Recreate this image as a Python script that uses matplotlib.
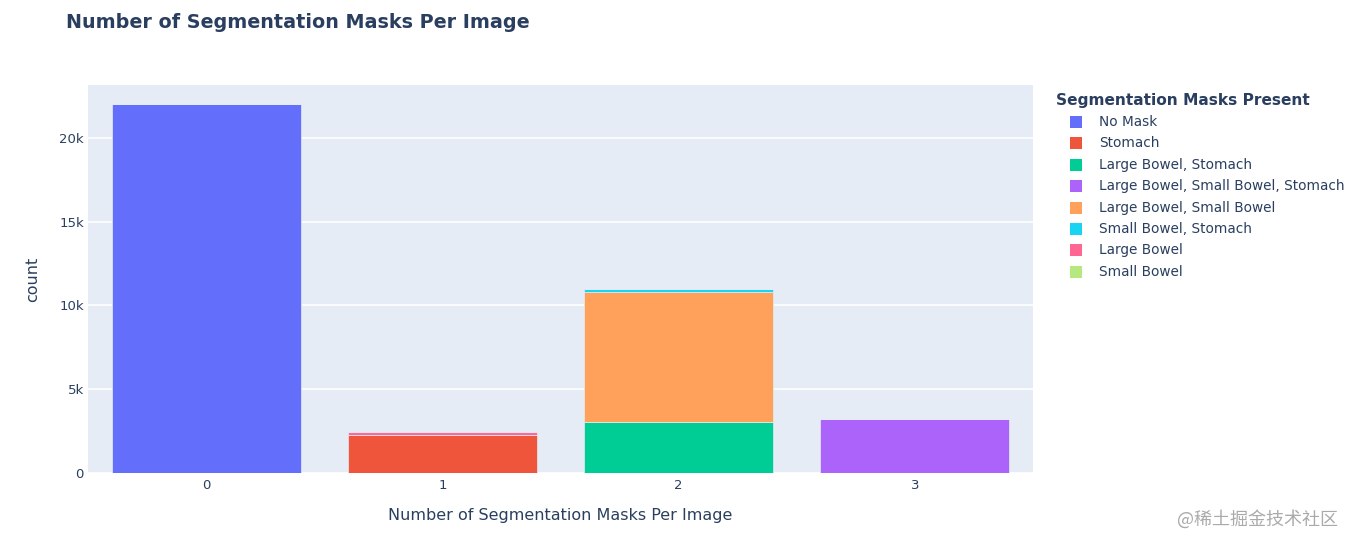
import matplotlib
matplotlib.use("Agg")
from matplotlib import pyplot as plt
from matplotlib.patches import Rectangle
import numpy as np

plt.rcParams['font.family'] = ['DejaVu Sans', 'Noto Sans CJK SC']

# data
mask_counts = [0, 1, 2, 3]
series_names = ['No Mask', 'Stomach', 'Large Bowel, Stomach',
                'Large Bowel, Small Bowel, Stomach', 'Large Bowel, Small Bowel',
                'Small Bowel, Stomach', 'Large Bowel', 'Small Bowel']
no_mask = [22030, 0, 0, 0]
stomach = [0, 2270, 0, 0]
lb_stomach = [0, 0, 3030, 0]
lb_sb_stomach = [0, 0, 0, 3220]
lb_sb = [0, 0, 7790, 0]
sb_stomach = [0, 0, 150, 0]
large_bowel = [0, 150, 0, 0]
small_bowel = [0, 30, 0, 0]
series_values = [no_mask, stomach, lb_stomach, lb_sb_stomach, lb_sb,
                 sb_stomach, large_bowel, small_bowel]
colors = ['#636EFA', '#EF553B', '#00CC96', '#AB63FA', '#FFA15A',
          '#19D3F3', '#FF6692', '#B6E880']

W, H = 1355, 547
text_col = '#2a3f5f'
fig = plt.figure(figsize=(W/100, H/100), dpi=100)
ax = fig.add_axes([88/W, 1-473/H, (1033-88)/W, (473-85)/H])
ax.set_facecolor('#E5ECF6')

bottom = np.zeros(len(mask_counts))
for name, vals, c in zip(series_names, series_values, colors):
    vals = np.array(vals, dtype=float)
    ax.bar(mask_counts, vals, bottom=bottom, width=0.8, color=c,
           edgecolor='#E5ECF6', linewidth=0.5, label=name, zorder=3)
    bottom += vals

ax.set_xlim(-0.5, 3.5)
ax.set_ylim(0, 23160)
ax.set_yticks([0, 5000, 10000, 15000, 20000])
ax.set_yticklabels(['0', '5k', '10k', '15k', '20k'])
ax.set_xticks(mask_counts)
ax.grid(axis='y', color='white', linewidth=1.2, zorder=0)
ax.set_axisbelow(True)
for s in ax.spines.values():
    s.set_visible(False)
ax.tick_params(length=0, labelsize=9.5, colors=text_col, pad=4)
ax.tick_params(axis='y', pad=3)
ax.set_xlabel('Number of Segmentation Masks Per Image', fontsize=11.5,
              color=text_col, labelpad=12)
ax.set_ylabel('count', fontsize=11.5, color=text_col, labelpad=14)

fig.text(66/W, 1-22/H, 'Number of Segmentation Masks Per Image',
         fontsize=13.8, fontweight='bold', color=text_col, va='center')

# legend
fig.text(1056/W, 1-100/H, 'Segmentation Masks Present', fontsize=11.1,
         fontweight='bold', color=text_col, va='center')
for i, (n, c) in enumerate(zip(series_names, colors)):
    yc = 122 + i * 21.4
    fig.add_artist(Rectangle((1070/W, 1-(yc+6)/H), 12/W, 12/H,
                             facecolor=c, edgecolor='none',
                             transform=fig.transFigure))
    fig.text(1099/W, 1-yc/H, n, fontsize=9.8, color=text_col, va='center')

fig.text(1338/W, 1-519/H, '@稀土掘金技术社区', fontsize=13,
         color='#aaaaaa', ha='right', va='center',
         family=['Noto Sans CJK SC', 'DejaVu Sans'])

fig.savefig('out.png', dpi=100)
